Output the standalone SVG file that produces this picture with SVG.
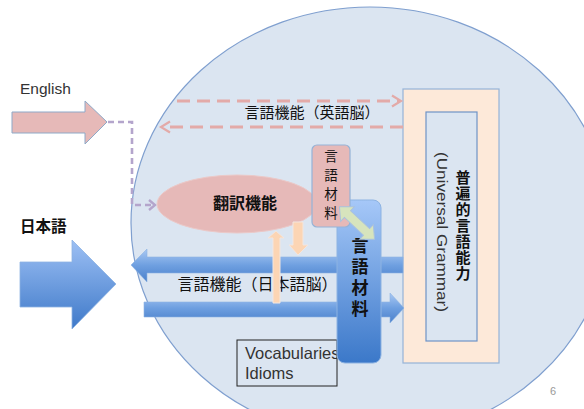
<svg xmlns="http://www.w3.org/2000/svg" width="584" height="409" viewBox="0 0 584 409">
<defs>
<style>
.lat{font-family:"Liberation Sans","DejaVu Sans",sans-serif;fill:#333}
.jp{font-family:"Noto Sans CJK JP","Noto Sans CJK SC",sans-serif;fill:#111}
.vert{writing-mode:vertical-rl;glyph-orientation-vertical:0}
.pdash{fill:none;stroke:#e3aaa8;stroke-width:3;stroke-dasharray:13,7}
.pdhead{fill:none;stroke:#e3aaa8;stroke-width:2.2}
.vdash{fill:none;stroke:#b4a5cc;stroke-width:2.6;stroke-dasharray:6,4}
.peach{fill:#fcd5b4;stroke:#f2e6e0;stroke-width:1}
</style>
<linearGradient id="gh" x1="0" y1="0" x2="0" y2="1">
<stop offset="0" stop-color="#a9c8f3"/>
<stop offset="0.5" stop-color="#6e9fe0"/>
<stop offset="1" stop-color="#4a80cb"/>
</linearGradient>
<linearGradient id="gbig" x1="0" y1="0" x2="0" y2="1">
<stop offset="0" stop-color="#9dc0f4"/>
<stop offset="1" stop-color="#3e79c9"/>
</linearGradient>
<linearGradient id="gv" x1="0" y1="0" x2="0" y2="1">
<stop offset="0" stop-color="#a6c8f8"/>
<stop offset="1" stop-color="#3b78c9"/>
</linearGradient>
</defs>
<rect width="584" height="409" fill="#ffffff"/>

<g id="brain">
<ellipse cx="370" cy="223" rx="239" ry="216" fill="#dbe5f1" stroke="#7f9fcf" stroke-width="1.2"/>
</g>

<g id="english">
<text class="lat" x="20" y="94" font-size="15.5">English</text>
<polygon points="12,112 85,112 85,101 107,122 85,144 85,133 12,133" fill="#e6b9b8" stroke="#8ea9c8" stroke-width="1"/>
</g>

<g id="nihongo">
<text class="jp" x="20" y="232" font-size="15.5" font-weight="bold">日本語</text>
<polygon points="20,262 72,262 72,240 116,284 72,329 72,307 20,307" fill="url(#gbig)" stroke="#8db3e2" stroke-width="0.8"/>
</g>

<g id="vocab">
<rect x="237" y="340" width="100" height="46" fill="none" stroke="#222" stroke-width="1"/>
<text class="lat" x="245" y="359" font-size="16.5">Vocabularies</text>
<text class="lat" x="245" y="379" font-size="16.5">Idioms</text>
</g>

<g id="ug">
<rect x="403" y="89" width="96" height="274" fill="#fde9d9" stroke="#95b3d7" stroke-width="1.2"/>
<rect x="426" y="112" width="51" height="229" fill="#dbe5f1" stroke="#6f93c6" stroke-width="1.2"/>
<text class="jp vert" x="463" y="170" font-size="15" font-weight="bold" letter-spacing="1">普遍的言語能力</text>
<text class="lat" font-size="14" transform="translate(437,152) rotate(90)" textLength="160" lengthAdjust="spacingAndGlyphs">(Universal Grammar)</text>
</g>

<g id="connectors">
<path class="pdash" d="M177,101 H400"/>
<path class="pdhead" d="M392,95.5 L401,101 L392,106.5"/>
<path class="pdash" d="M403,127 H163"/>
<path class="pdhead" d="M170,121.5 L161,127 L170,132.5"/>
<path class="vdash" d="M108,122 H132 V205 H153"/>
<path fill="none" stroke="#b4a5cc" stroke-width="2.4" d="M149,200 L155,205 L149,210"/>
</g>

<g id="label-en">
<text class="jp" x="312" y="118" font-size="15" text-anchor="middle">言語機能（英語脳）</text>
</g>

<g id="translation">
<ellipse cx="237" cy="204" rx="80" ry="29" fill="#e6b9b8" stroke="#ebc9c8" stroke-width="1"/>
<text class="jp" x="245" y="209" font-size="16" font-weight="bold" text-anchor="middle">翻訳機能</text>
</g>

<g id="jp-arrows">
<polygon points="403,257 147,257 147,249 131,265 147,282 147,273 403,273" fill="url(#gh)" stroke="#8db3e2" stroke-width="0.6"/>
<polygon points="144,302 390,302 390,293 404,308 390,323 390,317 144,317" fill="url(#gh)" stroke="#8db3e2" stroke-width="0.6"/>
<text class="jp" x="257.5" y="290" font-size="16" text-anchor="middle">言語機能（日本語脳）</text>
</g>

<g id="peach-arrows">
<polygon class="peach" points="273,303 273,238 268,238 276,231 284,238 280,238 280,303"/>
<polygon class="peach" points="293,222 303,222 303,245 308,245 298,255 289,245 293,245"/>
</g>

<g id="material-blue">
<rect x="337" y="200" width="44" height="163" rx="8" fill="url(#gv)" stroke="#8db3e2" stroke-width="1"/>
<text class="jp vert" x="360" y="237" font-size="17" font-weight="bold" letter-spacing="4">言語材料</text>
</g>

<g id="material-pink">
<rect x="312" y="145" width="38" height="82" rx="5" fill="#e6b9b8" stroke="#95b3d7" stroke-width="1.2"/>
<text class="jp vert" x="331" y="149" font-size="13.5" letter-spacing="5.5">言語材料</text>
</g>

<g id="exchange">
<polygon transform="translate(357,223) rotate(43)" points="-24,0 -13,-10 -13,-4.5 13,-4.5 13,-10 24,0 13,10 13,4.5 -13,4.5 -13,10" fill="#d7e4bd" stroke="#a9c1de" stroke-width="1"/>
</g>

<text x="550" y="395" font-family="Liberation Sans, sans-serif" font-size="11" fill="#999">6</text>
</svg>
